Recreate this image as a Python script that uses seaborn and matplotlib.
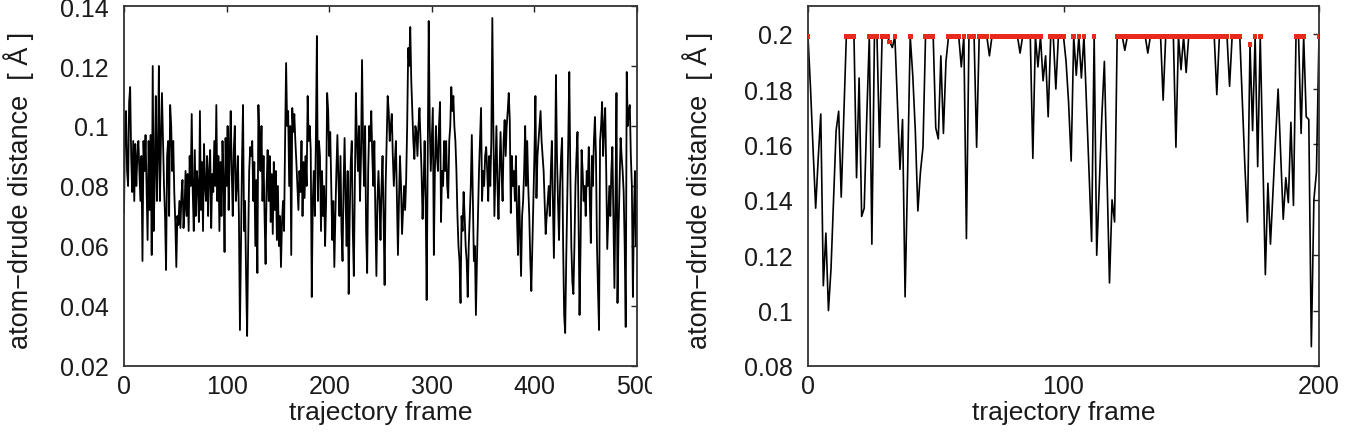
import numpy as np
import pandas as pd
import seaborn as sns
import matplotlib
matplotlib.use('Agg')
import matplotlib.pyplot as plt
from matplotlib.transforms import Bbox, TransformedBbox

# atom-drude distance per trajectory frame, values in mÅ
left_dist = [
    71, 100, 105, 85, 80, 108, 113, 90, 78, 95, 75, 94, 80, 90, 95, 85, 75, 90, 55, 95,        # 0
    85, 97, 80, 62, 95, 72, 97, 57, 120, 65, 85, 110, 75, 90, 120, 75, 95, 111, 95, 80,       # 20
    70, 52, 90, 95, 70, 107, 100, 85, 95, 78, 68, 53, 70, 67, 75, 66, 77, 82, 66, 72,         # 40
    85, 70, 84, 65, 90, 80, 104, 78, 65, 92, 70, 85, 80, 68, 105, 72, 88, 65, 94, 80,         # 60
    75, 90, 70, 85, 92, 66, 84, 78, 95, 80, 107, 75, 90, 65, 88, 70, 95, 82, 58, 96,          # 80
    80, 100, 72, 90, 105, 85, 70, 92, 100, 75, 80, 90, 70, 32, 60, 88, 107, 65, 75, 50,       # 100
    30, 60, 85, 93, 90, 95, 75, 88, 60, 82, 51, 107, 95, 85, 100, 75, 90, 70, 54, 80,         # 120
    92, 75, 90, 68, 84, 64, 88, 72, 85, 62, 80, 60, 70, 53, 68, 75, 65, 95, 121, 100,         # 140
    105, 80, 100, 57, 106, 98, 104, 95, 88, 80, 72, 85, 78, 95, 70, 88, 76, 90, 80, 110,      # 160
    95, 100, 92, 43, 75, 85, 70, 95, 130, 75, 95, 90, 65, 85, 70, 80, 60, 75, 111, 105,       # 180
    90, 98, 80, 62, 75, 53, 70, 85, 97, 82, 70, 90, 65, 55, 80, 96, 75, 60, 85, 44,           # 200
    70, 88, 95, 65, 50, 80, 111, 95, 85, 100, 75, 90, 122, 95, 80, 100, 65, 51, 85, 100,      # 220
    95, 105, 90, 80, 95, 70, 50, 75, 85, 75, 62, 80, 90, 70, 47, 80, 95, 110, 105, 95,        # 240
    100, 104, 90, 80, 88, 95, 75, 57, 75, 90, 80, 64, 72, 80, 72, 82, 100, 126, 120, 133,     # 260
    115, 105, 95, 89, 100, 98, 90, 100, 106, 95, 85, 69, 80, 95, 75, 42, 90, 135, 100, 85,    # 280
    95, 106, 57, 85, 100, 90, 85, 100, 108, 68, 85, 80, 95, 85, 95, 80, 76, 95, 100, 113,     # 300
    105, 110, 100, 95, 85, 70, 60, 55, 41, 70, 65, 78, 70, 60, 55, 43, 60, 70, 80, 97,        # 320
    75, 55, 60, 37, 55, 70, 85, 95, 106, 75, 85, 80, 90, 93, 85, 75, 90, 80, 95, 136,         # 340
    100, 70, 85, 100, 80, 69, 85, 98, 85, 75, 95, 102, 90, 100, 105, 111, 102, 71, 90, 80,    # 360
    85, 75, 90, 70, 57, 80, 65, 50, 70, 75, 85, 100, 80, 95, 80, 70, 55, 45, 60, 75,          # 380
    90, 110, 76, 90, 95, 100, 105, 95, 90, 85, 75, 64, 70, 75, 80, 70, 85, 95, 75, 56,        # 400
    80, 117, 90, 75, 62, 80, 90, 96, 60, 37, 31, 55, 75, 95, 118, 85, 60, 48, 44, 60,         # 420
    80, 90, 98, 70, 37, 60, 92, 85, 75, 80, 70, 85, 80, 93, 75, 61, 90, 80, 95, 103,          # 440
    90, 60, 45, 32, 95, 100, 108, 90, 100, 106, 85, 59, 70, 80, 70, 85, 93, 70, 46, 75,       # 460
    111, 41, 65, 80, 96, 90, 85, 78, 60, 33, 118, 100, 105, 107, 90, 80, 43, 70, 85, 60,      # 480
    75,                                                                                       # 500
]

right_dist = [
    199, 180, 158, 137, 155, 171, 109, 128, 100, 115, 140, 165, 172, 141, 170, 199, 199, 199, 199, 148,  # 0
    184, 134, 137, 170, 199, 124, 199, 199, 159, 199, 199, 199, 197, 195, 199, 175, 151, 169, 105, 150,  # 20
    199, 185, 165, 136, 150, 159, 199, 199, 199, 199, 166, 162, 192, 164, 190, 199, 199, 199, 199, 199,  # 40
    188, 199, 126, 199, 199, 199, 159, 199, 199, 199, 199, 192, 199, 199, 199, 199, 199, 199, 199, 199,  # 60
    199, 199, 199, 193, 199, 199, 199, 199, 155, 199, 188, 199, 183, 192, 170, 199, 199, 180, 199, 199,  # 80
    199, 190, 175, 154, 199, 185, 199, 184, 199, 175, 150, 125, 199, 120, 145, 170, 190, 150, 110, 140,  # 100
    132, 199, 199, 199, 194, 199, 199, 199, 199, 199, 199, 199, 199, 193, 199, 199, 199, 199, 199, 176,  # 120
    199, 199, 199, 199, 159, 199, 187, 199, 186, 199, 199, 199, 199, 199, 199, 199, 199, 199, 199, 199,  # 140
    178, 199, 199, 199, 199, 181, 199, 199, 199, 199, 175, 152, 132, 196, 165, 199, 152, 199, 156, 113,  # 160
    146, 124, 143, 162, 180, 157, 133, 148, 139, 168, 138, 199, 199, 164, 199, 170, 169, 87, 140, 150,   # 180
    199,                                                                                                 # 200
]

left_xticks = [0, 100, 200, 300, 400, 500]
left_yticks = [0.02, 0.04, 0.06, 0.08, 0.1, 0.12, 0.14]
right_xticks = [0, 100, 200]
right_yticks = [0.08, 0.1, 0.12, 0.14, 0.16, 0.18, 0.2]
cap_min = 0.196  # frames sitting at the cap get a red marker

df_left = pd.DataFrame({'frame': np.arange(len(left_dist)), 'dist': np.array(left_dist) / 1000})
df_right = pd.DataFrame({'frame': np.arange(len(right_dist)), 'dist': np.array(right_dist) / 1000})
df_cap = df_right[df_right['dist'] >= cap_min]

sns.set_theme(style='white')
plt.rcParams['font.family'] = ['Liberation Sans', 'DejaVu Sans']
plt.rcParams['axes.unicode_minus'] = True

fig = plt.figure(figsize=(13.52, 4.35), dpi=100)
W, H = 1352, 435
ax1 = fig.add_axes([124 / W, 1 - 367 / H, 513 / W, 360 / H])
ax2 = fig.add_axes([808 / W, 1 - 367 / H, 511 / W, 360 / H])

sns.lineplot(data=df_left, x='frame', y='dist', ax=ax1, color='black', lw=1.3, estimator=None)
sns.lineplot(data=df_right, x='frame', y='dist', ax=ax2, color='black', lw=1.2, estimator=None)
sns.scatterplot(data=df_cap, x='frame', y='dist', ax=ax2, marker='s', s=11,
                color='#e8291c', edgecolor='none', zorder=3)

ylabel = 'atom\u2212drude distance  [ Å ]'
for ax, xt, yt, xlim, ylim, lab_x, clip_px in [
        (ax1, left_xticks, left_yticks, (0, 500), (0.02, 0.14), 34, 652),
        (ax2, right_xticks, right_yticks, (0, 200), (0.08, 0.21), 713, 1347)]:
    ax.set_xlim(*xlim)
    ax.set_ylim(*ylim)
    ax.set_xticks(xt)
    ax.set_yticks(yt)
    ax.set_yticklabels(['%g' % v for v in yt])
    ax.tick_params(direction='in', length=4.5, width=1, colors='#222222',
                   top=True, right=True, labelsize=18, labelcolor='#1a1a1a')
    ax.tick_params(axis='y', pad=11)
    ax.tick_params(axis='x', pad=6)
    for sp in ax.spines.values():
        sp.set_color('#333333')
        sp.set_linewidth(1.3)
    ax.set_xlabel('trajectory frame', fontsize=19, color='#1a1a1a')
    ax.set_ylabel(ylabel, fontsize=19.5, color='#1a1a1a')
    ax.xaxis.set_label_coords(0.5, -0.095)
    pos = ax.get_position()
    ax.yaxis.set_label_coords((lab_x / W - pos.x0) / pos.width, 0.49)
    ax.grid(False)
    box = TransformedBbox(Bbox([[0, 0], [clip_px / W, 1]]), fig.transFigure)
    for t in ax.get_xticklabels():
        t.set_clip_on(True)
        t.set_clip_box(box)

fig.savefig('out.png', dpi=100)
